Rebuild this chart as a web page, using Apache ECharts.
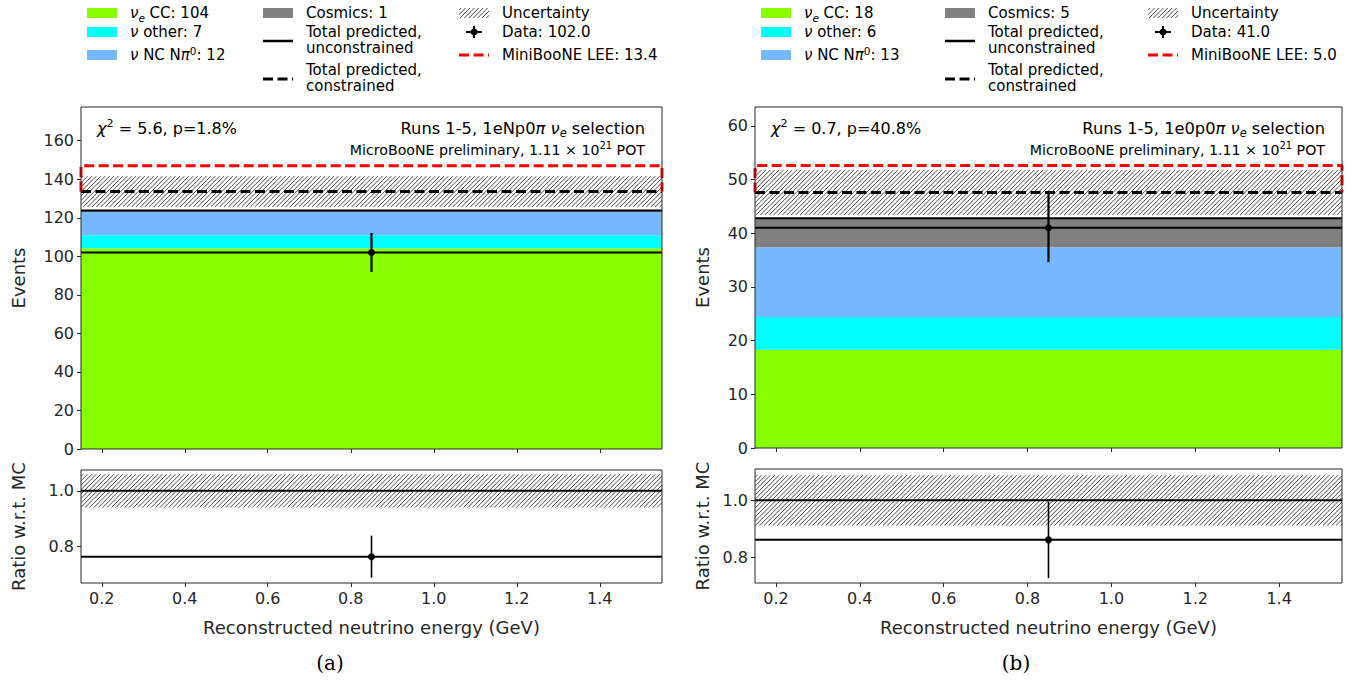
<!DOCTYPE html>
<html><head><meta charset="utf-8">
<script src="https://cdn.jsdelivr.net/npm/echarts@6/dist/echarts.min.js"></script>
<style>html,body{margin:0;padding:0;background:#fff}#c{width:1362px;height:684px}</style>
</head><body><div id="c"></div>
<script>
// ================= DATA =================
const binEdges = [0.15, 1.55];
const binCenters = [0.85];
const xTicks = [0.2, 0.4, 0.6, 0.8, 1.0, 1.2, 1.4];

// panel (a): 1eNp0pi selection
const aNueCC = [104.2];
const aNuOther = [6.8];
const aNCPi0 = [12.0];
const aCosmics = [0.8];
const aConstrained = [133.6];
const aUncert = [8.0];
const aData = [102.0];
const aDataErr = [10.1];
const aLEE = [13.4];
const aYTicks = [0, 20, 40, 60, 80, 100, 120, 140, 160];
const aYRange = [0, 177.5];
const aRatioTicks = [0.8, 1.0];
const aRatioRange = [0.669, 1.075];
const aLegendCounts = ['104', '7', '12', '1', '102.0', '13.4'];
const aChi2 = ['5.6', '1.8%'];
const aSelection = '1eNp0';

// panel (b): 1e0p0pi selection
const bNueCC = [18.3];
const bNuOther = [6.1];
const bNCPi0 = [13.0];
const bCosmics = [5.4];
const bConstrained = [47.6];
const bUncert = [4.2];
const bData = [41.0];
const bDataErr = [6.4];
const bLEE = [5.0];
const bYTicks = [0, 10, 20, 30, 40, 50, 60];
const bYRange = [0, 63.5];
const bRatioTicks = [0.8, 1.0];
const bRatioRange = [0.71, 1.11];
const bLegendCounts = ['18', '6', '13', '5', '41.0', '5.0'];
const bChi2 = ['0.7', '40.8%'];
const bSelection = '1e0p0';

// ================= STYLE / LAYOUT =================
const FONT = 'DejaVu Sans';
const AX = '#262626';
const C_NUE = '#88ff00', C_OTH = '#00ffff', C_NC = '#75b8ff', C_COS = '#808080';

const panels = [
  { nue: aNueCC, oth: aNuOther, nc: aNCPi0, cos: aCosmics, con: aConstrained, unc: aUncert,
    data: aData, err: aDataErr, lee: aLEE, yTicks: aYTicks, yRange: aYRange,
    rTicks: aRatioTicks, rRange: aRatioRange, counts: aLegendCounts, chi: aChi2, sel: aSelection,
    main: {left: 81, top: 107, width: 581, height: 342},
    ratio: {left: 81, top: 470, width: 581, height: 113},
    legendX: 87, legendCols: [0, 176, 372], nameGap: 54, caption: '(a)', captionX: 330 },
  { nue: bNueCC, oth: bNuOther, nc: bNCPi0, cos: bCosmics, con: bConstrained, unc: bUncert,
    data: bData, err: bDataErr, lee: bLEE, yTicks: bYTicks, yRange: bYRange,
    rTicks: bRatioTicks, rRange: bRatioRange, counts: bLegendCounts, chi: bChi2, sel: bSelection,
    main: {left: 755, top: 107, width: 587, height: 341},
    ratio: {left: 755, top: 469, width: 587, height: 114},
    legendX: 761, legendCols: [0, 184, 387], nameGap: 44, caption: '(b)', captionX: 1016 }
];

// ================= RENDERERS =================
function rectRender(params, api) {
  const p0 = api.coord([api.value(0), api.value(3)]);
  const p1 = api.coord([api.value(1), api.value(2)]);
  return { type: 'rect', shape: {x: p0[0], y: p0[1], width: p1[0] - p0[0], height: p1[1] - p0[1]},
           style: {fill: api.visual('color')} };
}
function hatchLines(X0, Y0, X1, Y1, step, color, lw) {
  const ch = [];
  for (let c = X0 + Y0 + step / 2; c < X1 + Y1; c += step) {
    const xa = Math.max(X0, c - Y1), xb = Math.min(X1, c - Y0);
    if (xb <= xa) continue;
    ch.push({type: 'line', shape: {x1: xa, y1: c - xa, x2: xb, y2: c - xb}, style: {stroke: color, lineWidth: lw}});
  }
  return ch;
}
function hatchRender(params, api) {
  const p0 = api.coord([api.value(0), api.value(3)]);
  const p1 = api.coord([api.value(1), api.value(2)]);
  return { type: 'group', children: hatchLines(p0[0], p0[1], p1[0], p1[1], 4.4, '#333', 0.9) };
}
function errRender(lw, r) {
  return function (params, api) {
    const c = api.coord([api.value(0), api.value(3)]);
    const l = api.coord([api.value(1), api.value(3)]);
    const rr = api.coord([api.value(2), api.value(3)]);
    const t = api.coord([api.value(0), api.value(5)]);
    const b = api.coord([api.value(0), api.value(4)]);
    return { type: 'group', children: [
      {type: 'line', shape: {x1: l[0], y1: l[1], x2: rr[0], y2: rr[1]}, style: {stroke: '#000', lineWidth: 2}},
      {type: 'line', shape: {x1: t[0], y1: t[1], x2: b[0], y2: b[1]}, style: {stroke: '#000', lineWidth: lw}},
      {type: 'circle', shape: {cx: c[0], cy: c[1], r: r}, style: {fill: '#000'}}
    ]};
  };
}

// rich text helper styles
function richSet(fs) {
  return {
    m: {fontSize: fs, fontFamily: FONT, lineHeight: 20, verticalAlign: 'middle', color: '#000'},
    s: {fontSize: fs * 0.7, fontFamily: FONT, fontStyle: 'italic', lineHeight: 8, verticalAlign: 'bottom', color: '#000'},
    u: {fontSize: fs * 0.7, fontFamily: FONT, lineHeight: 8, verticalAlign: 'top', color: '#000'},
    i: {fontSize: fs, fontFamily: FONT, fontStyle: 'italic', lineHeight: 20, verticalAlign: 'middle', color: '#000'}
  };
}

// ================= BUILD OPTION =================
const grids = [], xAxes = [], yAxes = [], series = [], graphics = [];
const tickLabelStyle = {color: AX, fontSize: 16, fontFamily: FONT};

panels.forEach((P, pi) => {
  const gMain = grids.length;
  grids.push(Object.assign({show: true, borderColor: AX, borderWidth: 1, backgroundColor: 'transparent', z: 10}, P.main));
  const gRat = grids.length;
  grids.push(Object.assign({show: true, borderColor: AX, borderWidth: 1, backgroundColor: 'transparent', z: 10}, P.ratio));

  [gMain, gRat].forEach(g => {
    const isRatio = g === gRat;
    xAxes.push({
      type: 'value', gridIndex: g, min: binEdges[0], max: binEdges[binEdges.length - 1], z: 10,
      axisLine: {show: false},
      axisTick: {show: true, length: 4, lineStyle: {color: AX, width: 1}, customValues: xTicks},
      axisLabel: {show: isRatio, customValues: xTicks, formatter: v => v.toFixed(1), margin: 7, ...tickLabelStyle},
      splitLine: {show: false},
      name: isRatio ? 'Reconstructed neutrino energy (GeV)' : '',
      nameLocation: 'middle', nameGap: 35,
      nameTextStyle: {color: AX, fontSize: 18, fontFamily: FONT}
    });
    const ticks = isRatio ? P.rTicks : P.yTicks;
    const range = isRatio ? P.rRange : P.yRange;
    yAxes.push({
      type: 'value', gridIndex: g, min: range[0], max: range[1], z: 10,
      axisLine: {show: false},
      axisTick: {show: true, length: 4, lineStyle: {color: AX, width: 1}, customValues: ticks},
      axisLabel: {customValues: ticks, formatter: v => isRatio ? v.toFixed(1) : String(v), margin: 7, ...tickLabelStyle},
      splitLine: {show: false},
      name: isRatio ? 'Ratio w.r.t. MC' : 'Events',
      nameLocation: 'middle', nameGap: P.nameGap,
      nameTextStyle: {color: AX, fontSize: 18, fontFamily: FONT}
    });
  });

  // stacked components
  const comps = [[P.nue, C_NUE], [P.oth, C_OTH], [P.nc, C_NC], [P.cos, C_COS]];
  const nb = binEdges.length - 1;
  const base = new Array(nb).fill(0);
  comps.forEach(([arr, col]) => {
    const d = [];
    for (let i = 0; i < nb; i++) { d.push([binEdges[i], binEdges[i + 1], base[i], base[i] + arr[i]]); base[i] += arr[i]; }
    series.push({type: 'custom', xAxisIndex: gMain, yAxisIndex: gMain, renderItem: rectRender, clip: true,
      itemStyle: {color: col}, data: d, z: 1, silent: true, encode: {x: [0, 1], y: [2, 3]}});
  });
  const totals = base.slice();

  // uncertainty band (hatched) around constrained prediction
  const bandMain = [], bandRatio = [];
  for (let i = 0; i < nb; i++) {
    bandMain.push([binEdges[i], binEdges[i + 1], P.con[i] - P.unc[i], P.con[i] + P.unc[i]]);
    bandRatio.push([binEdges[i], binEdges[i + 1], 1 - P.unc[i] / P.con[i], 1 + P.unc[i] / P.con[i]]);
  }
  series.push({type: 'custom', xAxisIndex: gMain, yAxisIndex: gMain, renderItem: hatchRender, clip: true, data: bandMain, z: 2, silent: true, encode: {x: [0, 1], y: [2, 3]}});
  series.push({type: 'custom', xAxisIndex: gRat, yAxisIndex: gRat, renderItem: hatchRender, clip: true, data: bandRatio, z: 2, silent: true, encode: {x: [0, 1], y: [2, 3]}});

  // step lines
  const stepPts = (vals) => { const d = []; for (let i = 0; i < nb; i++) { d.push([binEdges[i], vals[i]], [binEdges[i + 1], vals[i]]); } return d; };
  series.push({type: 'line', xAxisIndex: gMain, yAxisIndex: gMain, data: stepPts(totals), symbol: 'none', z: 3, silent: true,
    lineStyle: {color: '#000', width: 2}});
  series.push({type: 'line', xAxisIndex: gMain, yAxisIndex: gMain, data: stepPts(P.con), symbol: 'none', z: 3, silent: true,
    lineStyle: {color: '#000', width: 3, type: [10, 4.5]}});
  const leeTop = P.con.map((c, i) => c + P.lee[i]);
  const leePts = [[binEdges[0], P.con[0]]].concat(stepPts(leeTop)).concat([[binEdges[nb], P.con[nb - 1]]]);
  series.push({type: 'line', xAxisIndex: gMain, yAxisIndex: gMain, data: leePts, symbol: 'none', z: 3, silent: true,
    lineStyle: {color: '#ff0000', width: 3, type: [10, 4.5]}});
  series.push({type: 'line', xAxisIndex: gRat, yAxisIndex: gRat, data: stepPts(new Array(nb).fill(1)), symbol: 'none', z: 3, silent: true,
    lineStyle: {color: '#000', width: 2}});

  // data points
  const dMain = [], dRat = [];
  for (let i = 0; i < nb; i++) {
    dMain.push([binCenters[i], binEdges[i], binEdges[i + 1], P.data[i], P.data[i] - P.err[i], P.data[i] + P.err[i]]);
    const r = P.data[i] / P.con[i], re = P.err[i] / P.con[i];
    dRat.push([binCenters[i], binEdges[i], binEdges[i + 1], r, r - re, r + re]);
  }
  series.push({type: 'custom', xAxisIndex: gMain, yAxisIndex: gMain, renderItem: errRender(2.2, 3.5), clip: true, data: dMain, z: 5, silent: true, encode: {x: 0, y: 3}});
  series.push({type: 'custom', xAxisIndex: gRat, yAxisIndex: gRat, renderItem: errRender(1.6, 3.5), clip: true, data: dRat, z: 5, silent: true, encode: {x: 0, y: 3}});

  // annotations
  const right = P.main.left + P.main.width - 17;
  graphics.push({type: 'text', x: P.main.left + 16, y: 128, z: 20, style: {
    text: '{i|χ}{u|2}{m| = ' + P.chi[0] + ', p=' + P.chi[1] + '}', align: 'left', verticalAlign: 'middle', rich: richSet(16)}});
  graphics.push({type: 'text', x: right, y: 128, z: 20, style: {
    text: '{m|Runs 1-5, ' + P.sel + '}{i|π ν}{s|e}{m| selection}', align: 'right', verticalAlign: 'middle', rich: richSet(16.3)}});
  graphics.push({type: 'text', x: right, y: 150, z: 20, style: {
    text: '{m|MicroBooNE preliminary, 1.11 × 10}{u|21}{m| POT}', align: 'right', verticalAlign: 'middle', rich: richSet(14.2)}});

  // caption
  graphics.push({type: 'text', x: P.captionX, y: 663, z: 20, style: {text: P.caption, align: 'center', verticalAlign: 'middle',
    fill: '#000', font: '20px "DejaVu Serif"'}});

  // legend
  const L = P.legendX, cols = P.legendCols;
  const swW = 30, swH = 10, tOff = 43;
  const legRich = richSet(15);
  const txt = (x, y, t) => ({type: 'text', x: x, y: y, z: 20, style: {text: t, align: 'left', verticalAlign: 'middle', fill: '#000', font: '15px "DejaVu Sans"', lineHeight: 16}});
  const rtxt = (x, y, t) => ({type: 'text', x: x, y: y, z: 20, style: {text: t, align: 'left', verticalAlign: 'middle', rich: legRich}});
  const rows1 = [13, 32, 55];
  [[C_NUE, '{i|ν}{s|e}{m| CC: ' + P.counts[0] + '}'], [C_OTH, '{i|ν}{m| other: ' + P.counts[1] + '}'], [C_NC, '{i|ν}{m| NC N}{i|π}{u|0}{m|: ' + P.counts[2] + '}']].forEach((e, k) => {
    graphics.push({type: 'rect', shape: {x: L + cols[0], y: rows1[k] - swH / 2, width: swW, height: swH}, style: {fill: e[0]}, z: 20});
    graphics.push(rtxt(L + cols[0] + tOff, rows1[k], e[1]));
  });
  graphics.push({type: 'rect', shape: {x: L + cols[1], y: 13 - swH / 2, width: swW, height: swH}, style: {fill: C_COS}, z: 20});
  graphics.push(txt(L + cols[1] + tOff, 13, 'Cosmics: ' + P.counts[3]));
  graphics.push({type: 'line', shape: {x1: L + cols[1], y1: 41, x2: L + cols[1] + swW, y2: 41}, style: {stroke: '#000', lineWidth: 2.5}, z: 20});
  graphics.push(txt(L + cols[1] + tOff, 40, 'Total predicted,\nunconstrained'));
  graphics.push({type: 'line', shape: {x1: L + cols[1], y1: 79, x2: L + cols[1] + swW, y2: 79}, style: {stroke: '#000', lineWidth: 3, lineDash: [10, 4.5]}, z: 20});
  graphics.push(txt(L + cols[1] + tOff, 78, 'Total predicted,\nconstrained'));
  // hatch swatch
  const hx = L + cols[2], hy = 13 - swH / 2;
  graphics.push({type: 'group', z: 20, children: hatchLines(hx, hy, hx + swW, hy + swH, 4.4, '#333', 0.9)});
  graphics.push(txt(L + cols[2] + tOff, 13, 'Uncertainty'));
  // data marker
  const dx = L + cols[2] + 15;
  graphics.push({type: 'line', shape: {x1: dx - 8, y1: 32, x2: dx + 8, y2: 32}, style: {stroke: '#000', lineWidth: 2}, z: 20});
  graphics.push({type: 'line', shape: {x1: dx, y1: 26, x2: dx, y2: 38}, style: {stroke: '#000', lineWidth: 2}, z: 20});
  graphics.push({type: 'circle', shape: {cx: dx, cy: 32, r: 3.5}, style: {fill: '#000'}, z: 20});
  graphics.push(txt(L + cols[2] + tOff, 32, 'Data: ' + P.counts[4]));
  graphics.push({type: 'line', shape: {x1: L + cols[2], y1: 55, x2: L + cols[2] + swW, y2: 55}, style: {stroke: '#ff0000', lineWidth: 3, lineDash: [10, 4.5]}, z: 20});
  graphics.push(txt(L + cols[2] + tOff, 55, 'MiniBooNE LEE: ' + P.counts[5]));
});

const option = {
  animation: false,
  backgroundColor: '#fff',
  textStyle: {fontFamily: FONT},
  grid: grids, xAxis: xAxes, yAxis: yAxes, series: series,
  graphic: {elements: graphics}
};

const chart = echarts.init(document.getElementById('c'), null, {renderer: 'svg', width: 1362, height: 684});
chart.setOption(option);
</script>
</body></html>
